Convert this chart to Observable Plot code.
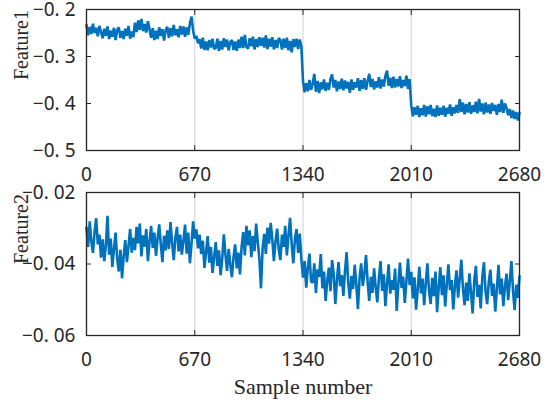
<!DOCTYPE html>
<html>
<head>
<meta charset="utf-8">
<script src="https://cdn.jsdelivr.net/npm/d3@7"></script>
<script src="https://cdn.jsdelivr.net/npm/@observablehq/plot@0.6"></script>
<style>
  html, body { margin: 0; padding: 0; background: #fff; }
  #chart { position: relative; width: 547px; height: 402px; background: #fff; overflow: hidden; }
  #chart svg { display: block; position: absolute; left: 0; overflow: visible; }
</style>
</head>
<body>
<div id="chart"></div>
<script>
const xTicks = [0, 670, 1340, 2010, 2680];
const xTickLabels = ["0", "670", "1340", "2010", "2680"];
const y1Ticks = [-0.5, -0.4, -0.3, -0.2];
const y1TickLabels = ["−0. 5", "−0. 4", "−0. 3", "−0. 2"];
const y2Ticks = [-0.06, -0.04, -0.02];
const y2TickLabels = ["−0. 06", "−0. 04", "−0. 02"];
const y1Title = "Feature1";
const y2Title = "Feature2";
const xTitle = "Sample number";
const sampleStep = 10; // one stored value every 10 samples

const feature1 = [
  -0.233,-0.255,-0.237,-0.252,-0.230,-0.250,-0.239,-0.257,-0.235,-0.248,
  -0.261,-0.241,-0.256,-0.236,-0.263,-0.245,-0.258,-0.239,-0.265,-0.243,
  -0.238,-0.260,-0.246,-0.263,-0.241,-0.256,-0.235,-0.262,-0.247,-0.259,
  -0.228,-0.248,-0.223,-0.243,-0.220,-0.246,-0.231,-0.249,-0.225,-0.242,
  -0.260,-0.240,-0.265,-0.245,-0.263,-0.238,-0.256,-0.242,-0.266,-0.244,
  -0.237,-0.260,-0.240,-0.257,-0.233,-0.255,-0.242,-0.259,-0.235,-0.253,
  -0.236,-0.258,-0.238,-0.254,-0.230,-0.215,-0.245,-0.262,-0.256,-0.272,
  -0.263,-0.283,-0.260,-0.286,-0.268,-0.287,-0.265,-0.281,-0.262,-0.284,
  -0.282,-0.262,-0.288,-0.267,-0.285,-0.261,-0.280,-0.264,-0.287,-0.269,
  -0.265,-0.286,-0.268,-0.288,-0.264,-0.282,-0.258,-0.282,-0.254,-0.280,
  -0.283,-0.261,-0.278,-0.258,-0.285,-0.263,-0.280,-0.259,-0.277,-0.260,
  -0.281,-0.255,-0.284,-0.262,-0.279,-0.259,-0.285,-0.265,-0.282,-0.261,
  -0.265,-0.285,-0.262,-0.282,-0.260,-0.287,-0.267,-0.291,-0.263,-0.280,
  -0.262,-0.284,-0.264,-0.279,-0.352,-0.376,-0.357,-0.374,-0.350,-0.371,
  -0.358,-0.337,-0.375,-0.352,-0.378,-0.355,-0.370,-0.349,-0.373,-0.356,
  -0.371,-0.348,-0.338,-0.366,-0.350,-0.374,-0.353,-0.369,-0.347,-0.372,
  -0.351,-0.368,-0.354,-0.377,-0.349,-0.371,-0.355,-0.366,-0.346,-0.373,
  -0.350,-0.369,-0.346,-0.371,-0.352,-0.337,-0.365,-0.348,-0.370,-0.353,
  -0.366,-0.344,-0.368,-0.349,-0.364,-0.341,-0.330,-0.362,-0.345,-0.367,
  -0.343,-0.366,-0.348,-0.364,-0.342,-0.367,-0.350,-0.363,-0.341,-0.369,
  -0.348,-0.404,-0.427,-0.408,-0.424,-0.405,-0.429,-0.410,-0.425,-0.403,
  -0.428,-0.406,-0.423,-0.403,-0.427,-0.411,-0.429,-0.404,-0.426,-0.409,
  -0.424,-0.405,-0.428,-0.409,-0.422,-0.402,-0.426,-0.408,-0.421,-0.403,
  -0.420,-0.391,-0.418,-0.398,-0.423,-0.401,-0.419,-0.397,-0.422,-0.404,
  -0.418,-0.396,-0.421,-0.390,-0.417,-0.400,-0.423,-0.398,-0.419,-0.402,
  -0.422,-0.399,-0.416,-0.403,-0.424,-0.401,-0.418,-0.392,-0.420,-0.400,
  -0.410,-0.425,-0.412,-0.431,-0.415,-0.433,-0.418,-0.436,-0.420
];

const feature2 = [
  -0.0298,-0.0352,-0.0281,-0.0337,-0.0369,-0.0310,-0.0272,-0.0345,-0.0318,-0.0382,
  -0.0331,-0.0392,-0.0348,-0.0265,-0.0374,-0.0329,-0.0408,-0.0357,-0.0312,-0.0386,
  -0.0421,-0.0360,-0.0440,-0.0378,-0.0333,-0.0395,-0.0349,-0.0302,-0.0368,-0.0327,
  -0.0361,-0.0296,-0.0342,-0.0287,-0.0379,-0.0320,-0.0351,-0.0302,-0.0392,-0.0338,
  -0.0294,-0.0355,-0.0312,-0.0377,-0.0330,-0.0289,-0.0346,-0.0395,-0.0321,-0.0362,
  -0.0306,-0.0358,-0.0283,-0.0341,-0.0389,-0.0327,-0.0296,-0.0365,-0.0318,-0.0374,
  -0.0335,-0.0290,-0.0371,-0.0312,-0.0398,-0.0344,-0.0281,-0.0329,-0.0303,-0.0356,
  -0.0318,-0.0372,-0.0335,-0.0411,-0.0367,-0.0322,-0.0396,-0.0352,-0.0425,-0.0381,
  -0.0339,-0.0405,-0.0362,-0.0431,-0.0386,-0.0317,-0.0374,-0.0419,-0.0358,-0.0402,
  -0.0437,-0.0381,-0.0345,-0.0412,-0.0368,-0.0429,-0.0352,-0.0311,-0.0376,-0.0293,
  -0.0348,-0.0306,-0.0381,-0.0322,-0.0364,-0.0287,-0.0339,-0.0385,-0.0468,-0.0357,
  -0.0316,-0.0372,-0.0298,-0.0343,-0.0285,-0.0331,-0.0392,-0.0337,-0.0301,-0.0360,
  -0.0389,-0.0318,-0.0352,-0.0293,-0.0376,-0.0321,-0.0271,-0.0345,-0.0398,-0.0330,
  -0.0302,-0.0369,-0.0315,-0.0387,-0.0438,-0.0392,-0.0466,-0.0410,-0.0371,-0.0449,
  -0.0452,-0.0398,-0.0481,-0.0415,-0.0436,-0.0372,-0.0468,-0.0421,-0.0503,-0.0447,
  -0.0410,-0.0476,-0.0389,-0.0428,-0.0512,-0.0445,-0.0395,-0.0462,-0.0431,-0.0489,
  -0.0419,-0.0367,-0.0452,-0.0497,-0.0433,-0.0470,-0.0402,-0.0458,-0.0526,-0.0440,
  -0.0398,-0.0461,-0.0427,-0.0375,-0.0449,-0.0503,-0.0436,-0.0481,-0.0412,-0.0466,
  -0.0507,-0.0438,-0.0392,-0.0475,-0.0429,-0.0518,-0.0456,-0.0401,-0.0483,-0.0445,
  -0.0472,-0.0413,-0.0531,-0.0458,-0.0396,-0.0467,-0.0435,-0.0509,-0.0448,-0.0385,
  -0.0459,-0.0422,-0.0496,-0.0437,-0.0528,-0.0470,-0.0408,-0.0482,-0.0441,-0.0515,
  -0.0453,-0.0398,-0.0476,-0.0512,-0.0439,-0.0490,-0.0421,-0.0535,-0.0466,-0.0409,
  -0.0487,-0.0432,-0.0519,-0.0458,-0.0401,-0.0473,-0.0445,-0.0527,-0.0462,-0.0418,
  -0.0494,-0.0441,-0.0388,-0.0469,-0.0515,-0.0452,-0.0503,-0.0426,-0.0480,-0.0538,
  -0.0447,-0.0405,-0.0492,-0.0458,-0.0524,-0.0436,-0.0395,-0.0478,-0.0512,-0.0449,
  -0.0416,-0.0489,-0.0455,-0.0533,-0.0470,-0.0402,-0.0485,-0.0441,-0.0518,-0.0463,
  -0.0427,-0.0501,-0.0448,-0.0392,-0.0476,-0.0529,-0.0458,-0.0495,-0.0434
];

const samples = feature1.map((_, i) => i * sampleStep);

const TEXT = "#262626";
const SANS = "'Noto Sans', 'Liberation Sans', sans-serif";
const SERIF = "'Liberation Serif', 'DejaVu Serif', serif";

function panel({values, yDomain, yTicks, yLabels, yTitle, height, marginTop, marginBottom, xTitle, top}) {
  const data = values.map((v, i) => ({sample: samples[i], value: v}));
  const marks = [
    Plot.gridX(xTicks, {stroke: "#dedede", strokeOpacity: 1, strokeWidth: 1.4}),
    Plot.lineY(data, {x: "sample", y: "value", stroke: "#0072BD", strokeWidth: 2.6, strokeLinejoin: "miter"}),
    Plot.frame({stroke: TEXT, strokeWidth: 1.3}),
    Plot.axisX(xTicks, {anchor: "bottom", tickSize: -5, tickPadding: 22, fontSize: 19, fill: TEXT, stroke: TEXT,
      tickFormat: d => xTickLabels[xTicks.indexOf(d)], label: null}),
    Plot.axisX(xTicks, {anchor: "top", tickSize: -5, stroke: TEXT, tickFormat: () => "", label: null}),
    Plot.axisY(yTicks, {anchor: "left", tickSize: -5, tickPadding: 16, fontSize: 19, fill: TEXT, stroke: TEXT,
      tickFormat: d => yLabels[yTicks.indexOf(d)], label: null}),
    Plot.axisY(yTicks, {anchor: "right", tickSize: -5, stroke: TEXT, tickFormat: () => "", label: null}),
    Plot.text([yTitle], {text: d => d, frameAnchor: "left", dx: -65, rotate: -90,
      fontSize: 20, fontFamily: SERIF, fill: TEXT})
  ];
  if (xTitle) {
    marks.push(Plot.text([xTitle], {text: d => d, frameAnchor: "bottom", lineAnchor: "top", dy: 43,
      fontSize: 22, fontFamily: SERIF, fill: TEXT}));
  }
  const svg = Plot.plot({
    width: 547,
    height,
    marginLeft: 86,
    marginRight: 28,
    marginTop,
    marginBottom,
    style: {fontFamily: SANS, color: TEXT, background: "transparent", overflow: "visible"},
    x: {domain: [0, 2680]},
    y: {domain: yDomain},
    marks
  });
  svg.style.top = top + "px";
  return svg;
}

const chart = document.getElementById("chart");
chart.appendChild(panel({
  values: feature1, yDomain: [-0.5, -0.2], yTicks: y1Ticks, yLabels: y1TickLabels, yTitle: y1Title,
  height: 192, marginTop: 9, marginBottom: 42, top: 0
}));
chart.appendChild(panel({
  values: feature2, yDomain: [-0.06, -0.02], yTicks: y2Ticks, yLabels: y2TickLabels, yTitle: y2Title,
  height: 226, marginTop: 16, marginBottom: 67, xTitle, top: 176
}));
</script>
</body>
</html>
